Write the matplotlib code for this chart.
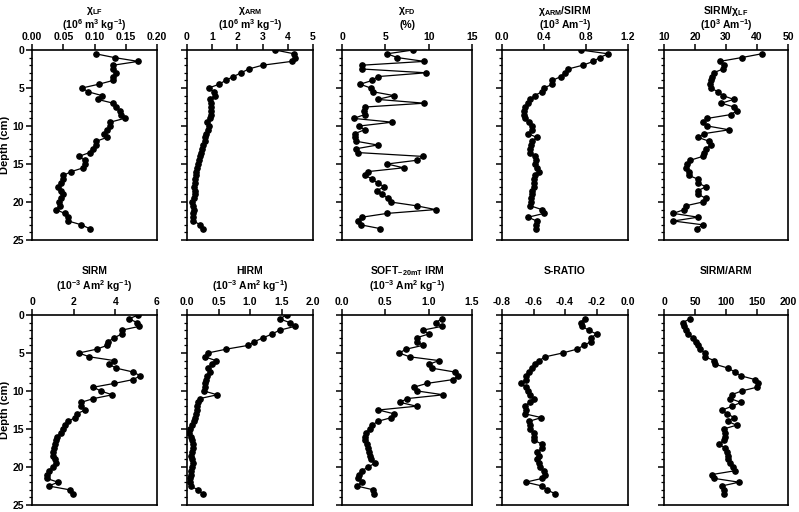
import matplotlib
matplotlib.use("Agg")
import matplotlib.pyplot as plt
from matplotlib.ticker import MultipleLocator, FormatStrFormatter

plt.rcParams["font.family"] = ["Liberation Sans", "DejaVu Sans"]
plt.rcParams["font.weight"] = "bold"
plt.rcParams["mathtext.fontset"] = "custom"
plt.rcParams["mathtext.rm"] = "Liberation Sans:bold"
plt.rcParams["mathtext.bf"] = "Liberation Sans:bold"
plt.rcParams["mathtext.it"] = "Liberation Sans:bold"
plt.rcParams["mathtext.default"] = "rm"

# depths (cm)
depth_a = [0.5, 1.0, 1.5, 2.0, 2.5, 3.0, 3.5, 4.0, 4.5, 5.0, 5.5, 6.0, 6.5, 7.0, 7.5, 8.0,
           8.5, 9.0, 9.5, 10.0, 10.5, 11.0, 11.5, 12.0, 12.5, 13.0, 13.5, 14.0, 14.5, 15.0,
           15.5, 16.0, 16.5, 17.0, 17.5, 18.0, 18.5, 19.0, 19.5, 20.0, 20.5, 21.0, 21.5,
           22.0, 22.5, 23.0, 23.5]
depth_b = [0.0] + depth_a

# top row
chi_lf = [0.102, 0.132, 0.17, 0.13, 0.13, 0.135, 0.13, 0.13, 0.107, 0.08, 0.09, 0.112,
          0.105, 0.13, 0.135, 0.14, 0.142, 0.148, 0.125, 0.125, 0.12, 0.115, 0.12, 0.103,
          0.102, 0.097, 0.092, 0.075, 0.084, 0.085, 0.082, 0.063, 0.05, 0.05, 0.047, 0.042,
          0.046, 0.05, 0.047, 0.043, 0.045, 0.039, 0.052, 0.058, 0.058, 0.079, 0.092]
chi_arm = [3.5, 4.25, 4.3, 4.15, 3.0, 2.45, 2.15, 1.84, 1.53, 1.28, 0.86, 1.06, 1.12, 0.93,
           0.95, 0.95, 0.96, 0.95, 0.91, 0.8, 0.89, 0.82, 0.75, 0.73, 0.7, 0.65, 0.6, 0.56,
           0.52, 0.48, 0.44, 0.4, 0.37, 0.34, 0.33, 0.3, 0.29, 0.33, 0.3, 0.28, 0.2, 0.22,
           0.26, 0.25, 0.24, 0.25, 0.53, 0.62]
chi_fd = [8.2, 5.2, 6.4, 9.5, 2.3, 2.3, 9.7, 4.1, 3.5, 2.1, 3.3, 3.6, 6.0, 4.1, 9.5, 2.7,
          2.5, 2.6, 1.35, 5.8, 2.0, 2.6, 1.5, 1.5, 1.6, 4.1, 1.6, 1.9, 9.3, 8.7, 5.2, 7.1,
          3.0, 2.7, 3.5, 4.1, 4.9, 4.0, 4.6, 5.3, 5.6, 8.6, 10.8, 5.2, 2.3, 1.85, 2.15, 4.4]
arm_sirm = [0.75, 1.01, 0.93, 0.87, 0.77, 0.63, 0.6, 0.56, 0.48, 0.48, 0.40, 0.38, 0.31,
            0.27, 0.25, 0.22, 0.21, 0.21, 0.22, 0.26, 0.29, 0.29, 0.25, 0.33, 0.29, 0.28,
            0.27, 0.27, 0.31, 0.32, 0.31, 0.33, 0.35, 0.31, 0.30, 0.30, 0.30, 0.29, 0.29,
            0.28, 0.28, 0.27, 0.38, 0.40, 0.25, 0.33, 0.32, 0.32]
sirm_chi = [41.5, 35, 28, 29.5, 29, 26, 25.5, 25, 24.8, 25, 27.5, 29, 32.5, 28.5, 32.5,
            33.5, 31.5, 24, 22.5, 24, 31, 23, 21, 24.5, 25, 23.5, 23, 22.5, 18.5, 17.5, 17,
            18, 18, 21, 21, 23.5, 21, 21, 23.5, 22.5, 17, 16.5, 13, 21, 13, 22.5, 20.5]

# bottom row
sirm = [5.1, 4.65, 5.05, 5.15, 4.3, 4.3, 3.95, 3.65, 3.6, 3.1, 2.25, 2.75, 3.95, 3.7, 4.05,
        4.85, 5.2, 4.85, 3.95, 2.95, 3.3, 3.85, 2.95, 2.35, 2.35, 2.55, 2.15, 2.05, 1.75,
        1.6, 1.5, 1.4, 1.2, 1.15, 1.1, 1.05, 1.0, 1.0, 1.1, 1.15, 1.0, 0.8, 0.7, 0.7, 1.25,
        0.8, 1.8, 1.95]
hirm = [1.58, 1.47, 1.63, 1.71, 1.47, 1.35, 1.21, 1.07, 0.97, 0.62, 0.33, 0.28, 0.46, 0.40,
        0.33, 0.36, 0.32, 0.30, 0.28, 0.28, 0.27, 0.48, 0.2, 0.17, 0.16, 0.16, 0.14, 0.13,
        0.11, 0.08, 0.04, 0.03, 0.06, 0.08, 0.09, 0.1, 0.08, 0.07, 0.08, 0.1, 0.08, 0.06,
        0.06, 0.05, 0.05, 0.06, 0.17, 0.25]
soft = [1.15, 1.08, 1.15, 0.93, 1.0, 0.86, 0.87, 0.93, 0.74, 0.66, 0.78, 1.12, 1.0, 1.04,
        1.3, 1.34, 1.28, 0.98, 0.83, 0.87, 1.17, 0.75, 0.67, 0.86, 0.42, 0.6, 0.57, 0.41,
        0.35, 0.32, 0.28, 0.27, 0.27, 0.29, 0.3, 0.31, 0.32, 0.34, 0.38, 0.3, 0.23, 0.2,
        0.18, 0.23, 0.17, 0.36, 0.37]
s_ratio = [-0.275, -0.3, -0.29, -0.25, -0.2, -0.235, -0.235, -0.28, -0.325, -0.415, -0.525,
           -0.565, -0.59, -0.61, -0.63, -0.65, -0.65, -0.68, -0.65, -0.635, -0.62, -0.6,
           -0.625, -0.655, -0.65, -0.655, -0.55, -0.63, -0.625, -0.625, -0.6, -0.6, -0.595,
           -0.545, -0.545, -0.575, -0.565, -0.58, -0.565, -0.56, -0.535, -0.53, -0.545,
           -0.65, -0.545, -0.515, -0.465]
sirm_arm = [42, 30, 31.5, 35, 39, 47, 51, 55, 58, 66, 66, 81, 83, 104, 114, 124, 147, 152,
            150, 125, 109, 107, 124, 110, 94, 102, 113, 103, 117, 96, 99, 99, 96, 89, 98,
            101, 104, 104, 107, 111, 114, 77, 81, 121, 93, 96, 96]

# (title line 1, title line 2, values, depths, xlim, xstep, tick format)
panels = [
    ("χ$_{LF}$", "(10$^{6}$ m$^{3}$ kg$^{-1}$)", chi_lf, depth_a, (0, 0.2), 0.05, "%.2f"),
    ("χ$_{ARM}$", "(10$^{6}$ m$^{3}$ kg$^{-1}$)", chi_arm, depth_b, (0, 5), 1, "%d"),
    ("χ$_{FD}$", "(%)", chi_fd, depth_b, (0, 15), 5, "%d"),
    ("χ$_{ARM}$/SIRM", "(10$^{3}$ Am$^{-1}$)", arm_sirm, depth_b, (0, 1.2), 0.4, "%.1f"),
    ("SIRM/χ$_{LF}$", "(10$^{3}$ Am$^{-1}$)", sirm_chi, depth_a, (10, 50), 10, "%d"),
    ("SIRM", "(10$^{-3}$ Am$^{2}$ kg$^{-1}$)", sirm, depth_b, (0, 6), 2, "%d"),
    ("HIRM", "(10$^{-3}$ Am$^{2}$ kg$^{-1}$)", hirm, depth_b, (0, 2), 0.5, "%.1f"),
    ("SOFT$_{-20mT}$ IRM", "(10$^{-3}$ Am$^{2}$ kg$^{-1}$)", soft, depth_a, (0, 1.5), 0.5, "%.1f"),
    ("S-RATIO", "", s_ratio, depth_a, (-0.8, 0.0), 0.2, "%.1f"),
    ("SIRM/ARM", "", sirm_arm, depth_a, (0, 200), 50, "%d"),
]

W, H = 799.0, 512.0
lefts = [32, 187, 342, 502, 664]
rights = [157, 313, 472, 628, 788]
tops = [50, 315]
title_off = [(39, 25), (44, 29)]   # px above the axes, per row

fig = plt.figure(figsize=(7.99, 5.12), dpi=100)

for i, (t1, t2, vals, dep, xl, xs, fmt) in enumerate(panels):
    row, col = divmod(i, 5)
    l, r = lefts[col], rights[col]
    top = tops[row]
    ax = fig.add_axes([l / W, 1 - (top + 190) / H, (r - l) / W, 190 / H])
    ax.plot(vals, dep, "-o", color="black", lw=0.9, ms=3.8)
    ax.set_xlim(*xl)
    ax.set_ylim(25, 0)
    ax.xaxis.set_major_locator(MultipleLocator(xs))
    ax.xaxis.set_major_formatter(FormatStrFormatter(fmt))
    ax.xaxis.tick_top()
    ax.yaxis.set_major_locator(MultipleLocator(5))
    ax.yaxis.set_minor_locator(MultipleLocator(1))
    ax.tick_params(axis="both", which="major", labelsize=7.5, length=4, width=1.1, pad=1.5)
    ax.tick_params(axis="y", which="minor", length=2.5, width=0.9)
    for s in ax.spines.values():
        s.set_linewidth(1.2)
    if col == 0:
        ax.set_ylabel("Depth (cm)", fontsize=8, fontweight="bold")
        ax.yaxis.set_label_coords((10 - l) / (r - l), 0.5)
    else:
        ax.set_yticklabels([])
    o1, o2 = title_off[row]
    ax.text(0.5, 1 + o1 / 190, t1, transform=ax.transAxes, ha="center", va="center",
            fontsize=7.5, fontweight="bold")
    if t2:
        ax.text(0.5, 1 + o2 / 190, t2, transform=ax.transAxes, ha="center", va="center",
                fontsize=7.5, fontweight="bold")

plt.savefig("out.png", dpi=100)
